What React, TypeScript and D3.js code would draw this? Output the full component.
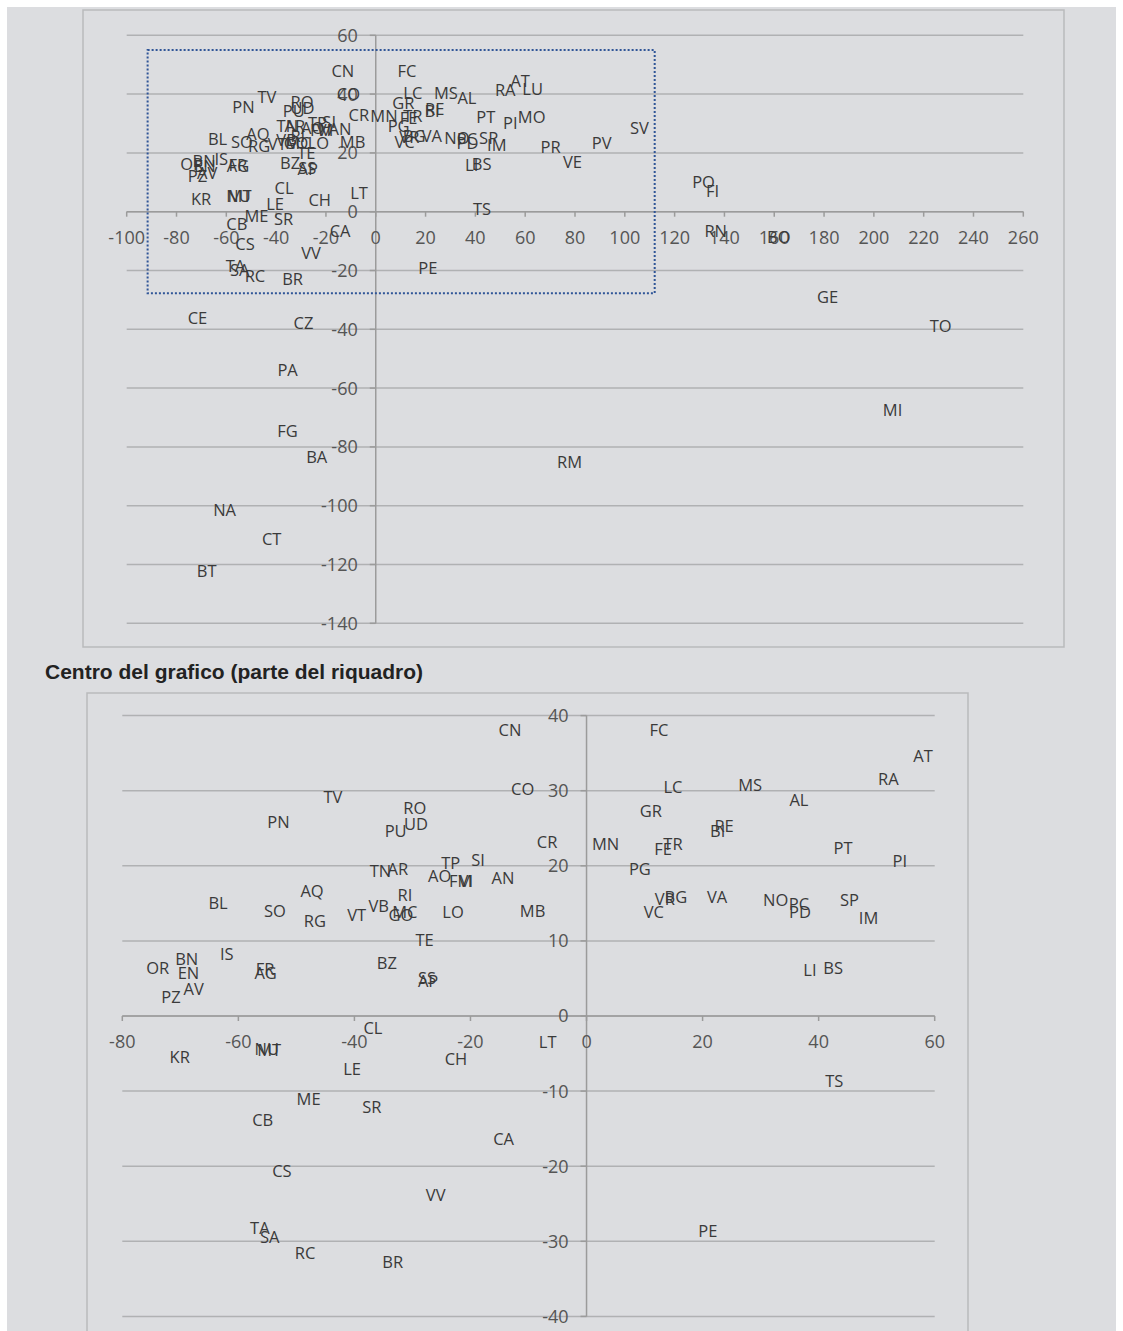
import React from "react";
import * as d3 from "d3";

// province codes with their coordinates
const provinces = [
  "CN", "FC", "AT", "RA", "MS", "LC", "AL", "CO", "TV", "GR", "RO", "PN", "UD", "PU", "RE", "BI",
  "CR", "MN", "TR", "FE", "PT", "PI", "SI", "TP", "TN", "AR", "AO", "FM", "VI", "AN", "PG", "RI",
  "AQ", "BL", "SO", "RG", "VT", "VB", "GO", "MC", "LO", "MB", "VR", "BG", "VA", "VC", "NO", "PC",
  "PD", "SP", "IM", "TE", "OR", "BN", "EN", "IS", "FR", "AG", "PZ", "AV", "BZ", "SS", "AP", "LI",
  "BS", "CL", "KR", "NU", "MT", "LE", "CH", "LT", "TS", "ME", "SR", "CB", "CA", "CS", "VV", "TA",
  "SA", "RC", "BR", "PE", "SV", "PV", "PR", "VE", "MO", "LU", "PO", "FI", "RN", "BO", "GE", "TO",
  "MI", "RM", "CE", "CZ", "PA", "FG", "BA", "NA", "CT", "BT",
];
const xValues = [
  -13.2, 12.5, 58.0, 52.0, 28.2, 14.9, 36.6, -11.0, -43.7, 11.1, -29.6, -53.1, -29.4, -32.9, 23.7, 22.6,
  -6.8, 3.3, 14.9, 13.2, 44.2, 54.0, -18.7, -23.4, -35.5, -32.5, -25.3, -21.7, -20.8, -14.4, 9.2, -31.3,
  -47.3, -63.5, -53.7, -46.8, -39.6, -35.8, -32.0, -31.3, -23.0, -9.3, 13.5, 15.4, 22.5, 11.6, 32.6, 36.6,
  36.8, 45.3, 48.6, -27.9, -73.9, -68.9, -68.6, -62.0, -55.4, -55.3, -71.6, -67.7, -34.4, -27.5, -27.3, 38.5,
  42.5, -36.8, -70.1, -55.1, -54.7, -40.4, -22.5, -6.7, 42.7, -47.9, -37.0, -55.8, -14.3, -52.5, -26.0, -56.3,
  -54.6, -48.5, -33.4, 20.9, 105.9, 90.7, 70.2, 79.0, 62.6, 63.0, 131.6, 135.2, 136.5, 161.8, 181.4, 226.8,
  207.5, 77.8, -71.6, -29.0, -35.4, -35.4, -23.7, -60.7, -41.8, -67.9,
];
const yValues = [
  38.1, 38.1, 34.6, 31.6, 30.8, 30.5, 28.8, 30.2, 29.2, 27.3, 27.7, 25.8, 25.6, 24.6, 25.3, 24.6,
  23.2, 22.9, 22.9, 22.2, 22.4, 20.6, 20.8, 20.4, 19.3, 19.6, 18.7, 18.0, 18.0, 18.4, 19.5, 16.1,
  16.6, 15.1, 14.0, 12.7, 13.4, 14.6, 13.5, 13.8, 13.8, 14.0, 15.6, 15.9, 15.9, 13.9, 15.5, 14.9,
  13.8, 15.4, 13.1, 10.1, 6.4, 7.6, 5.7, 8.2, 6.3, 5.7, 2.5, 3.6, 7.0, 5.0, 4.7, 6.1,
  6.4, -1.6, -5.5, -4.4, -4.5, -7.1, -5.7, -3.5, -8.7, -11.1, -12.1, -13.8, -16.4, -20.7, -23.8, -28.3,
  -29.5, -31.5, -32.7, -28.7, 18.8, 13.7, 12.3, 7.2, 22.5, 32.0, 0.4, -2.7, -16.3, -18.3, -38.7, -48.6,
  -77.2, -94.9, -45.8, -47.5, -63.5, -84.3, -93.1, -111.1, -121.0, -131.9,
];

// axis ticks
const topXTicks = [-100, -80, -60, -40, -20, 0, 20, 40, 60, 80, 100, 120, 140, 160, 180, 200, 220, 240, 260];
const topYTicks = [60, 40, 20, 0, -20, -40, -60, -80, -100, -120, -140];
const zoomXTicks = [-80, -60, -40, -20, 0, 20, 40, 60];
const zoomYTicks = [40, 30, 20, 10, 0, -10, -20, -30, -40];

// the dotted box drawn on the full chart: [xMin, xMax, yMin, yMax]
const boxExtent = [-91.6, 112, -27.7, 55];

const title = "Centro del grafico (parte del riquadro)";

const points = provinces.map((p, i) => ({ code: p, x: xValues[i], y: yValues[i] }));

const BG = "#dcdde0";
const GRID = "#b0b1b3";
const AXIS = "#9b9b9b";
const LABEL = "#3a3a3a";
const TICK = "#555555";
const FONT = "'Open Sans', sans-serif";

type ChartProps = {
  frame: { x: number; y: number; w: number; h: number };
  xDomain: number[];
  yDomain: number[];
  xRange: number[];
  yRange: number[];
  xTicks: number[];
  yTicks: number[];
  labelDy: number;
  box?: number[];
};

const Scatter = ({ frame, xDomain, yDomain, xRange, yRange, xTicks, yTicks, labelDy, box }: ChartProps) => {
  const x = d3.scaleLinear().domain(xDomain).range(xRange);
  const y = d3.scaleLinear().domain(yDomain).range(yRange);
  const x0 = x(0);
  const y0 = y(0);
  const visible = points.filter(
    (d) => d.x >= xDomain[0] && d.x <= xDomain[1] && d.y >= yDomain[0] && d.y <= yDomain[1]
  );

  return (
    <g>
      <rect x={frame.x} y={frame.y} width={frame.w} height={frame.h} fill={BG} stroke="#b9babc" strokeWidth={1.5} />
      {/* gridlines */}
      {yTicks.map((t) => (
        <line key={"g" + t} x1={xRange[0]} x2={xRange[1]} y1={y(t)} y2={y(t)} stroke={GRID} strokeWidth={1.5} />
      ))}
      {/* axes */}
      <line x1={x0} x2={x0} y1={yRange[1]} y2={yRange[0]} stroke={AXIS} strokeWidth={1.5} />
      <line x1={xRange[0]} x2={xRange[1]} y1={y0} y2={y0} stroke={AXIS} strokeWidth={1.5} />
      {xTicks.map((t) => (
        <line key={"xt" + t} x1={x(t)} x2={x(t)} y1={y0} y2={y0 + 5} stroke={AXIS} strokeWidth={1.5} />
      ))}
      {yTicks.map((t) => (
        <line key={"yt" + t} x1={x0 - 6} x2={x0} y1={y(t)} y2={y(t)} stroke={AXIS} strokeWidth={1.5} />
      ))}
      {xTicks.map((t) => (
        <text key={"xl" + t} x={x(t)} y={y0 + 26} dy="0.36em" textAnchor="middle" fontSize={18} fill={TICK} fontFamily={FONT}>
          {t}
        </text>
      ))}
      {yTicks.map((t) => (
        <text key={"yl" + t} x={x0 - 18} y={y(t)} dy="0.36em" textAnchor="end" fontSize={18} fill={TICK} fontFamily={FONT}>
          {t}
        </text>
      ))}
      {box && (
        <rect
          x={x(box[0])}
          y={y(box[3])}
          width={x(box[1]) - x(box[0])}
          height={y(box[2]) - y(box[3])}
          fill="none"
          stroke="#2f5597"
          strokeWidth={2}
          strokeDasharray="2 2"
        />
      )}
      {visible.map((d) => (
        <text
          key={d.code}
          x={x(d.x)}
          y={y(d.y) + labelDy}
          dy="0.36em"
          textAnchor="middle"
          fontSize={16.5}
          fill={LABEL}
          fontFamily={FONT}
        >
          {d.code}
        </text>
      ))}
    </g>
  );
};

const App = () => {
  return (
    <svg
      width={1123}
      height={1331}
      style={{ position: "absolute", left: 0, top: 0 }}
    >
      <rect x={7} y={7} width={1109} height={1324} fill={BG} />
      <Scatter
        frame={{ x: 83, y: 10, w: 981, h: 637 }}
        xDomain={[-100, 260]}
        yDomain={[-140, 60]}
        xRange={[126.7, 1023.3]}
        yRange={[623.3, 35.3]}
        xTicks={topXTicks}
        yTicks={topYTicks}
        labelDy={-28.5}
        box={boxExtent}
      />
      <text x={45} y={679} fontSize={21} fontWeight="bold" fill="#222" fontFamily="'Liberation Sans', Arial, sans-serif">
        {title}
      </text>
      <Scatter
        frame={{ x: 87, y: 693, w: 881, h: 660 }}
        xDomain={[-80, 60]}
        yDomain={[-40, 40]}
        xRange={[122.3, 934.7]}
        yRange={[1316.4, 715.6]}
        xTicks={zoomXTicks}
        yTicks={zoomYTicks}
        labelDy={0}
      />
    </svg>
  );
};

export default App;
